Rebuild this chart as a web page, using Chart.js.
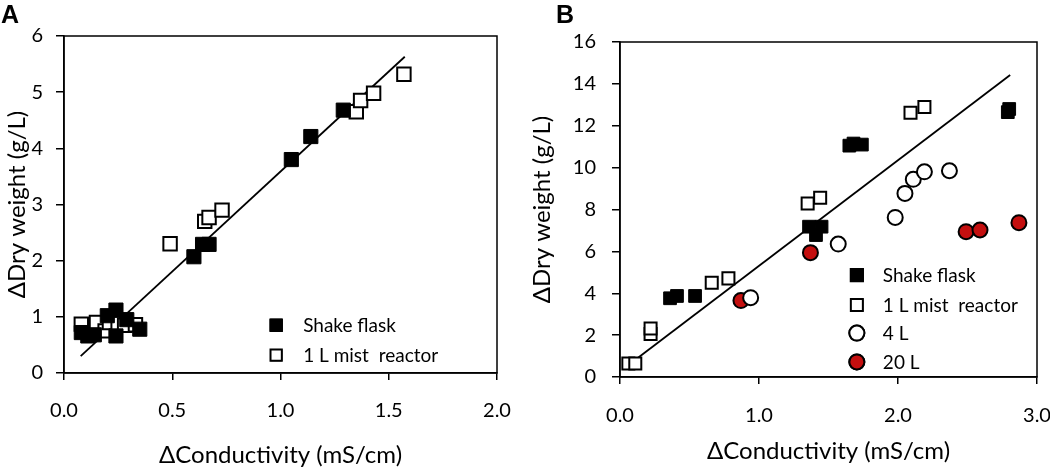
<!DOCTYPE html>
<html>
<head>
<meta charset="utf-8">
<script src="https://cdn.jsdelivr.net/npm/chart.js@4/dist/chart.umd.min.js"></script>
<style>
  body { margin: 0; background: #fff; }
  .panel { position: absolute; top: 0; width: 525px; height: 475px; }
  .tag { position: absolute; top: 0; font: bold 25px "Liberation Sans", Arial, sans-serif; color: #000; }
</style>
</head>
<body>
<div class="panel" style="left:0"><canvas id="chartA" width="525" height="475"></canvas></div>
<div class="panel" style="left:525px"><canvas id="chartB" width="525" height="475"></canvas></div>
<div class="tag" style="left:1px">A</div>
<div class="tag" style="left:556px">B</div>
<script>
// Panel A data
const shakeAx = [0.08, 0.11, 0.14, 0.20, 0.24, 0.24, 0.29, 0.35, 0.60, 0.64, 0.67, 1.05, 1.14, 1.29];
const shakeAy = [0.72, 0.66, 0.68, 1.02, 1.12, 0.66, 0.95, 0.78, 2.07, 2.29, 2.29, 3.80, 4.21, 4.68];
const mistAx = [0.08, 0.15, 0.19, 0.21, 0.25, 0.28, 0.33, 0.49, 0.65, 0.67, 0.73, 1.35, 1.37, 1.43, 1.57];
const mistAy = [0.87, 0.90, 0.75, 0.90, 0.88, 0.85, 0.86, 2.30, 2.70, 2.77, 2.90, 4.65, 4.85, 4.98, 5.32];
const fitAx = [0.077, 1.574];
const fitAy = [0.30, 5.63];
const xTicksA = [0, 0.5, 1.0, 1.5, 2.0];
const yTicksA = [0, 1, 2, 3, 4, 5, 6];

// Panel B data
const shakeBx = [0.36, 0.41, 0.54, 1.36, 1.41, 1.45, 1.65, 1.68, 1.74, 2.79, 2.80];
const shakeBy = [3.76, 3.87, 3.87, 7.18, 6.78, 7.18, 11.05, 11.15, 11.10, 12.65, 12.80];
const mistBx = [0.06, 0.11, 0.22, 0.22, 0.66, 0.78, 1.35, 1.44, 2.09, 2.19];
const mistBy = [0.65, 0.65, 2.05, 2.32, 4.50, 4.71, 8.29, 8.56, 12.62, 12.90];
const fourLx = [0.94, 1.57, 1.98, 2.05, 2.11, 2.19, 2.37];
const fourLy = [3.79, 6.35, 7.62, 8.77, 9.44, 9.80, 9.85];
const twentyLx = [0.87, 1.37, 2.49, 2.59, 2.87];
const twentyLy = [3.65, 5.94, 6.94, 7.02, 7.37];
const fitBx = [0.092, 2.807];
const fitBy = [0.73, 14.42];
const xTicksB = [0, 1, 2, 3];
const yTicksB = [0, 2, 4, 6, 8, 10, 12, 14, 16];

const labelsA = ['Shake flask', '1 L mist  reactor'];
const labelsB = ['Shake flask', '1 L mist  reactor', '4 L', '20 L'];

const FONT = 'Lato, "Open Sans", sans-serif';
const RED = '#c40f0f';

function pts(xs, ys) {
    return xs.map((x, i) => ({ x: x, y: ys[i] }));
}

// box around plot + legend inside chart area
const boxLegend = {
    id: 'boxLegend',
    afterDraw(chart, args, opts) {
        const ctx = chart.ctx;
        const a = chart.chartArea;
        ctx.save();
        ctx.strokeStyle = '#000';
        ctx.lineWidth = 1.5;
        ctx.strokeRect(a.left, a.top, a.right - a.left, a.bottom - a.top);
        ctx.font = '19px ' + FONT;
        ctx.fillStyle = '#000';
        ctx.textBaseline = 'middle';
        const mx = a.left + opts.x * (a.right - a.left);
        opts.items.forEach((it, i) => {
            const ds = chart.data.datasets[it];
            const y = a.top + opts.rows[i] * (a.bottom - a.top);
            Chart.helpers.drawPoint(ctx, {
                pointStyle: ds.pointStyle,
                radius: opts.radius[i],
                borderWidth: ds.borderWidth
            }, mx, y);
            ctx.fillStyle = ds.backgroundColor;
            ctx.strokeStyle = '#000';
            ctx.lineWidth = ds.borderWidth;
            ctx.fill();
            ctx.stroke();
            ctx.fillStyle = '#000';
            ctx.fillText(ds.label, mx + opts.gap, y + 1);
        });
        ctx.restore();
    }
};

function axisX(min, max, ticks, fmt, titlePad) {
    return {
        type: 'linear', min: min, max: max,
        afterBuildTicks: s => { s.ticks = ticks.map(v => ({ value: v })); },
        afterFit: s => { s.height = titlePad.h; s.paddingLeft = 0; s.paddingRight = 0; },
        border: { color: '#000', width: 1.5 },
        grid: { drawOnChartArea: false, drawTicks: true, tickLength: 7, color: '#000', lineWidth: 1.5 },
        ticks: { color: '#000', font: { family: FONT, size: 20 }, padding: titlePad.tp, maxRotation: 0,
                 callback: v => v.toFixed(fmt) },
        title: { display: true, text: '\u0394Conductivity (mS/cm)', color: '#000',
                 font: { family: FONT, size: 24 }, padding: { top: 0, bottom: titlePad.b } }
    };
}

function axisY(min, max, ticks, w, tp) {
    return {
        type: 'linear', min: min, max: max,
        afterBuildTicks: s => { s.ticks = ticks.map(v => ({ value: v })); },
        afterFit: s => { s.width = w; s.paddingTop = 0; s.paddingBottom = 0; },
        border: { color: '#000', width: 1.5 },
        grid: { drawOnChartArea: false, drawTicks: true, tickLength: 8, color: '#000', lineWidth: 1.5 },
        ticks: { color: '#000', font: { family: FONT, size: 20 }, padding: tp },
        title: { display: true, text: '\u0394Dry weight (g/L)', color: '#000',
                 font: { family: FONT, size: 24 }, padding: { top: 3, bottom: 0 } }
    };
}

function fitLine(xs, ys) {
    return { type: 'line', label: 'fit', data: pts(xs, ys), borderColor: '#000', borderWidth: 1.8,
             pointRadius: 0, fill: false, order: 10 };
}

// Panel A
new Chart(document.getElementById('chartA'), {
    type: 'scatter',
    data: {
        datasets: [
            { label: labelsA[0], data: pts(shakeAx, shakeAy), pointStyle: 'rect', pointRadius: 10,
              backgroundColor: '#000', borderColor: '#000', borderWidth: 1 },
            { label: labelsA[1], data: pts(mistAx, mistAy), pointStyle: 'rect', pointRadius: 9.5,
              backgroundColor: '#fff', borderColor: '#000', borderWidth: 2 },
            fitLine(fitAx, fitAy)
        ]
    },
    options: {
        responsive: false, animation: false,
        layout: { padding: { left: 0, right: 28, top: 36, bottom: 0 } },
        plugins: {
            legend: { display: false }, tooltip: { enabled: false },
            boxLegend: { items: [0, 1], x: 0.49, rows: [0.858, 0.947], radius: [8.5, 8], gap: 27 }
        },
        scales: {
            x: axisX(0, 2, xTicksA, 1, { h: 102, tp: 19, b: 5 }),
            y: axisY(0, 6, yTicksA, 64, 13)
        }
    },
    plugins: [boxLegend]
});

// Panel B
new Chart(document.getElementById('chartB'), {
    type: 'scatter',
    data: {
        datasets: [
            { label: labelsB[0], data: pts(shakeBx, shakeBy), pointStyle: 'rect', pointRadius: 9,
              backgroundColor: '#000', borderColor: '#000', borderWidth: 1 },
            { label: labelsB[1], data: pts(mistBx, mistBy), pointStyle: 'rect', pointRadius: 8.5,
              backgroundColor: '#fff', borderColor: '#000', borderWidth: 2 },
            { label: labelsB[2], data: pts(fourLx, fourLy), pointStyle: 'circle', pointRadius: 7.5,
              backgroundColor: '#fff', borderColor: '#000', borderWidth: 2 },
            { label: labelsB[3], data: pts(twentyLx, twentyLy), pointStyle: 'circle', pointRadius: 7.5,
              backgroundColor: RED, borderColor: '#000', borderWidth: 2 },
            fitLine(fitBx, fitBy)
        ]
    },
    options: {
        responsive: false, animation: false,
        layout: { padding: { left: 0, right: 13, top: 42, bottom: 0 } },
        plugins: {
            legend: { display: false }, tooltip: { enabled: false },
            boxLegend: { items: [0, 1, 2, 3], x: 0.568, rows: [0.696, 0.785, 0.869, 0.955],
                         radius: [9, 8.5, 7.5, 7.5], gap: 26 }
        },
        scales: {
            x: axisX(0, 3, xTicksB, 1, { h: 98, tp: 20, b: 9 }),
            y: axisY(0, 16, yTicksB, 95, 16)
        }
    },
    plugins: [boxLegend]
});
</script>
</body>
</html>
